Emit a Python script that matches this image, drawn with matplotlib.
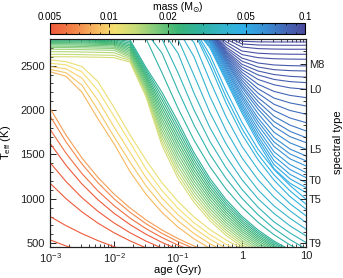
import matplotlib
matplotlib.use("Agg")
import matplotlib.pyplot as plt
from matplotlib.cm import ScalarMappable
from matplotlib.colors import LinearSegmentedColormap, LogNorm
from matplotlib.ticker import FixedLocator, FixedFormatter, MultipleLocator, NullFormatter

plt.rcParams["font.family"] = ["Liberation Sans", "DejaVu Sans"]
plt.rcParams["mathtext.fontset"] = "custom"
plt.rcParams["mathtext.rm"] = "Liberation Sans"
plt.rcParams["mathtext.it"] = "Liberation Sans:italic"
plt.rcParams["mathtext.bf"] = "Liberation Sans:bold"

AGE_GRID = [0.001, 0.00178, 0.00316, 0.00562, 0.01, 0.0178, 0.0316, 0.0562,
            0.1, 0.178, 0.316, 0.562, 1.0, 1.78, 3.16, 5.62, 10.0]

# tracks that start at 1 Myr (Teff in K, first len(track) ages of AGE_GRID)
EARLY_MASSES = [0.003, 0.0035, 0.004, 0.0045, 0.005, 0.0058, 0.0068, 0.0076,
                0.0085, 0.0092, 0.0099, 0.0106, 0.0113,
                0.0125, 0.0135, 0.0145, 0.0155, 0.0165, 0.0175, 0.0185, 0.0195,
                0.0205, 0.0215, 0.0225, 0.024, 0.025, 0.027, 0.028]
EARLY_TRACKS = [
    [537, 468, 416, 371],
    [800, 697, 607, 528, 460, 401],
    [1176, 1001, 852, 725, 617, 525, 447, 380],
    [1408, 1194, 1012, 858, 728, 617, 523, 444, 376],
    [1626, 1377, 1166, 988, 837, 709, 600, 508, 430, 364],
    [1784, 1513, 1283, 1088, 923, 782, 663, 563, 477, 405],
    [1934, 1640, 1391, 1180, 1000, 848, 719, 610, 517, 439],
    [2020, 1717, 1459, 1240, 1054, 896, 762, 648, 551, 468, 398],
    [2432, 2380, 2200, 1900, 1620, 1306, 1051, 846, 681, 548, 441],
    [2459, 2420, 2280, 2000, 1700, 1413, 1145, 927, 751, 608, 493, 399],
    [2489, 2465, 2360, 2110, 1810, 1522, 1239, 1009, 821, 669, 544, 443],
    [2527, 2510, 2430, 2220, 1930, 1635, 1337, 1092, 892, 729, 596, 487, 398],
    [2565, 2545, 2490, 2320, 2030, 1720, 1437, 1180, 969, 795, 653, 536, 440],
    [2601, 2600, 2598, 2595, 2590, 2540, 2150, 1600, 1230, 960, 752, 588, 460, 360],
    [2628, 2627, 2624, 2620, 2616, 2558, 2174, 1643, 1276, 1000, 786, 617, 484, 381],
    [2658, 2657, 2654, 2650, 2646, 2576, 2197, 1686, 1321, 1040, 820, 646, 509, 401],
    [2685, 2684, 2681, 2677, 2673, 2594, 2221, 1729, 1367, 1080, 854, 675, 533, 422, 334],
    [2705, 2704, 2701, 2697, 2693, 2611, 2244, 1771, 1413, 1120, 888, 703, 558, 442, 351],
    [2720, 2719, 2716, 2712, 2708, 2629, 2268, 1814, 1459, 1160, 922, 732, 582, 463, 368],
    [2735, 2734, 2731, 2727, 2723, 2647, 2291, 1857, 1504, 1200, 956, 761, 607, 483, 386],
    [2748, 2747, 2744, 2740, 2736, 2665, 2315, 1900, 1550, 1240, 990, 790, 631, 504, 403, 321],
    [2760, 2759, 2756, 2752, 2748, 2683, 2339, 1943, 1596, 1279, 1024, 819, 655, 525, 420, 336],
    [2770, 2769, 2766, 2762, 2758, 2701, 2362, 1986, 1641, 1319, 1058, 848, 680, 545, 438, 350],
    [2780, 2779, 2777, 2774, 2770, 2719, 2386, 2029, 1687, 1359, 1092, 877, 704, 566, 455, 365],
    [2790, 2789, 2787, 2784, 2780, 2736, 2409, 2071, 1733, 1399, 1126, 905, 729, 586, 472, 379],
    [2800, 2799, 2797, 2795, 2792, 2754, 2433, 2114, 1779, 1439, 1160, 934, 753, 607, 490, 394],
    [2808, 2807, 2806, 2804, 2801, 2772, 2456, 2157, 1824, 1479, 1194, 963, 778, 627, 507, 408],
    [2816, 2815, 2814, 2813, 2812, 2790, 2480, 2200, 1870, 1519, 1228, 992, 802, 648, 524, 423],
]

# heavier tracks, read from 10 Myr on (last len(track) ages of AGE_GRID)
LATE_MASSES = [0.030, 0.032, 0.034, 0.036, 0.038, 0.040, 0.042, 0.044, 0.046, 0.048,
               0.050, 0.052, 0.054, 0.056, 0.058, 0.060, 0.062, 0.064, 0.066,
               0.068, 0.070, 0.072, 0.074, 0.076, 0.078, 0.080, 0.082, 0.084,
               0.086, 0.088, 0.090, 0.092, 0.094, 0.096, 0.097, 0.098, 0.1]
LATE_TRACKS = [
    [2960, 2900, 2806, 2420, 2020, 1660, 1360, 1110, 905, 735, 595, 480, 385],
    [3000, 2950, 2880, 2640, 2220, 1830, 1500, 1230, 1005, 820, 665, 540, 435],
    [3040, 2990, 2930, 2800, 2420, 2000, 1645, 1350, 1105, 905, 740, 615, 507],
    [3080, 3030, 2970, 2900, 2640, 2190, 1800, 1480, 1215, 1000, 835, 695, 582],
    [3110, 3060, 3010, 2950, 2800, 2390, 1970, 1620, 1335, 1100, 920, 780, 658],
    [3140, 3090, 3040, 2990, 2910, 2600, 2150, 1770, 1460, 1215, 1020, 865, 732],
    [3170, 3120, 3070, 3020, 2960, 2760, 2330, 1925, 1590, 1330, 1115, 945, 807],
    [3200, 3150, 3100, 3050, 2990, 2880, 2500, 2080, 1725, 1440, 1210, 1025, 883],
    [3210, 3160, 3110, 3060, 3000, 2900, 2560, 2150, 1790, 1500, 1270, 1090, 939],
    [3220, 3170, 3120, 3070, 3010, 2920, 2620, 2220, 1860, 1560, 1330, 1150, 995],
    [3230, 3180, 3130, 3080, 3020, 2930, 2700, 2330, 1965, 1635, 1340, 1175, 1070],
    [3235, 3185, 3135, 3085, 3025, 2935, 2720, 2355, 1995, 1670, 1385, 1225, 1126],
    [3240, 3190, 3140, 3090, 3030, 2940, 2740, 2380, 2025, 1705, 1430, 1275, 1182],
    [3245, 3195, 3145, 3095, 3035, 2945, 2760, 2405, 2055, 1745, 1480, 1330, 1239],
    [3250, 3200, 3150, 3100, 3040, 2950, 2780, 2430, 2085, 1785, 1530, 1385, 1295],
    [3255, 3205, 3155, 3105, 3045, 2955, 2795, 2455, 2120, 1830, 1590, 1450, 1370],
    [3260, 3210, 3160, 3110, 3050, 2960, 2810, 2475, 2150, 1870, 1640, 1505, 1427],
    [3265, 3215, 3165, 3115, 3055, 2965, 2820, 2495, 2180, 1910, 1690, 1560, 1483],
    [3270, 3220, 3170, 3120, 3060, 2970, 2830, 2515, 2215, 1960, 1750, 1630, 1559],
    [3275, 3225, 3175, 3125, 3065, 2975, 2840, 2535, 2250, 2010, 1815, 1700, 1633],
    [3280, 3230, 3180, 3130, 3070, 2980, 2845, 2550, 2275, 2050, 1870, 1760, 1689],
    [3285, 3235, 3185, 3135, 3075, 2985, 2850, 2565, 2305, 2095, 1930, 1830, 1765],
    [3290, 3240, 3190, 3140, 3080, 2990, 2860, 2580, 2335, 2140, 1995, 1910, 1858],
    [3295, 3245, 3195, 3145, 3085, 2995, 2870, 2595, 2365, 2190, 2065, 1995, 1953],
    [3300, 3250, 3200, 3150, 3090, 3000, 2875, 2610, 2395, 2240, 2135, 2080, 2046],
    [3305, 3255, 3205, 3155, 3095, 3005, 2880, 2625, 2425, 2290, 2210, 2165, 2140],
    [3310, 3260, 3210, 3160, 3100, 3010, 2885, 2640, 2455, 2345, 2285, 2250, 2234],
    [3315, 3265, 3215, 3165, 3105, 3015, 2890, 2655, 2485, 2395, 2345, 2320, 2309],
    [3320, 3270, 3220, 3170, 3110, 3020, 2895, 2670, 2515, 2440, 2400, 2380, 2370],
    [3325, 3275, 3225, 3175, 3115, 3020, 2900, 2690, 2550, 2485, 2455, 2444, 2440],
    [3330, 3280, 3230, 3180, 3120, 3020, 2910, 2710, 2585, 2530, 2508, 2500, 2497],
    [3335, 3285, 3235, 3185, 3125, 3020, 2920, 2740, 2625, 2590, 2578, 2574, 2572],
    [3340, 3290, 3240, 3190, 3130, 3020, 2930, 2770, 2665, 2640, 2632, 2629, 2628],
    [3345, 3295, 3245, 3195, 3135, 3020, 2940, 2800, 2710, 2692, 2687, 2685, 2685],
    [3350, 3300, 3250, 3200, 3140, 3020, 2950, 2830, 2745, 2733, 2731, 2730, 2730],
    [3355, 3305, 3255, 3205, 3145, 3020, 2955, 2850, 2775, 2768, 2767, 2767, 2767],
    [3360, 3310, 3260, 3210, 3150, 3020, 2960, 2830, 2799, 2797, 2797, 2797, 2797],
]

# spectral type scale on the right axis
SPT_MAJOR_TEFF = [2519, 2234, 1558, 1213, 995, 500]
SPT_MAJOR_LABELS = ["M8", "L0", "L5", "T0", "T5", "T9"]
SPT_MINOR_TEFF = [2800, 2662, 2376, 2099, 1964, 1829, 1694, 1490, 1420, 1351,
                  1282, 1169, 1126, 1082, 1039, 871, 748, 624]

MASS_TICKS = [0.005, 0.01, 0.02, 0.05, 0.1]
MASS_TICK_LABELS = ["0.005", "0.01", "0.02", "0.05", "0.1"]
AGE_TICKS = [0.001, 0.01, 0.1, 1, 10]
AGE_TICK_LABELS = [r"10$^{-3}$", r"10$^{-2}$", r"10$^{-1}$", "1", "10"]

cmap = LinearSegmentedColormap.from_list("mass", [
    (0.00, "#ee5a3a"), (0.10, "#f4874a"), (0.18, "#f7b960"), (0.25, "#f5e070"),
    (0.33, "#c8dc78"), (0.42, "#7ac97a"), (0.50, "#3bb475"), (0.58, "#2fb29a"),
    (0.68, "#35b5cc"), (0.76, "#30b0e8"), (0.86, "#3a88d0"), (0.93, "#4565b5"),
    (1.00, "#4b4b9e")])
norm = LogNorm(vmin=0.005, vmax=0.1, clip=True)

fig = plt.figure(figsize=(3.43, 2.78), dpi=100)
ax = fig.add_axes([0.1458, 0.1133, 0.7463, 0.7482])

for mass, teff in zip(EARLY_MASSES, EARLY_TRACKS):
    ax.plot(AGE_GRID[:len(teff)], teff, color=cmap(norm(mass)), lw=0.8)
for mass, teff in zip(LATE_MASSES, LATE_TRACKS):
    ax.plot(AGE_GRID[-len(teff):], teff, color=cmap(norm(mass)), lw=0.8)

ax.set_xscale("log")
ax.set_xlim(1e-3, 10)
ax.set_ylim(462, 2806)
ax.xaxis.set_major_locator(FixedLocator(AGE_TICKS))
ax.xaxis.set_major_formatter(FixedFormatter(AGE_TICK_LABELS))
ax.xaxis.set_minor_formatter(NullFormatter())
ax.yaxis.set_major_locator(MultipleLocator(500))
ax.yaxis.set_minor_locator(MultipleLocator(100))
ax.tick_params(which="both", direction="in", top=True, right=False, labelsize=8, colors="#222222")
ax.tick_params(which="major", length=4, width=0.7)
ax.tick_params(which="minor", length=2, width=0.6)
ax.set_xlabel("age (Gyr)", fontsize=8)
ax.set_ylabel(r"T$_{\rm eff}$ (K)", fontsize=8)
ax.xaxis.set_label_coords(0.5, -0.09)
ax.yaxis.set_label_coords(-0.145, 0.5)

ax2 = ax.twinx()
ax2.set_ylim(ax.get_ylim())
ax2.yaxis.set_major_locator(FixedLocator(SPT_MAJOR_TEFF))
ax2.yaxis.set_major_formatter(FixedFormatter(SPT_MAJOR_LABELS))
ax2.yaxis.set_minor_locator(FixedLocator(SPT_MINOR_TEFF))
ax2.tick_params(which="both", direction="in", labelsize=8, colors="#222222")
ax2.tick_params(which="major", length=4, width=0.7, pad=2)
ax2.tick_params(which="minor", length=2, width=0.6)
ax2.set_ylabel("spectral type", fontsize=8)
ax2.yaxis.set_label_coords(1.105, 0.5)

for a in (ax, ax2):
    for s in a.spines.values():
        s.set_linewidth(0.8)
        s.set_color("#222222")

cax = fig.add_axes([0.1458, 0.878, 0.7434, 0.040])
cb = fig.colorbar(ScalarMappable(norm=norm, cmap=cmap), cax=cax, orientation="horizontal")
cb.outline.set_linewidth(0.8)
cax.xaxis.set_ticks_position("top")
cb.set_ticks(MASS_TICKS)
cb.set_ticklabels(MASS_TICK_LABELS)
cax.tick_params(which="both", direction="in", top=True, bottom=True, labelsize=7, pad=0.5)
cax.tick_params(which="major", length=3, width=0.6)
cax.tick_params(which="minor", length=1.5, width=0.5)

# colorbar title "mass (M_sun)" laid out as plain text pieces, sun symbol lowered
renderer = fig.canvas.get_renderer()
pieces = [("mass (M", 7.5, 0.0), ("\u2299", 5.5, -2.0), (")", 7.5, 0.0)]
texts = [fig.text(0, 0, s, fontsize=fs, va="baseline", ha="left") for s, fs, _ in pieces]
widths = [t.get_window_extent(renderer).width for t in texts]
x_px = 0.5175 * fig.bbox.width - sum(widths) / 2
base_px = fig.bbox.height - 9.5
for t, w, (_, _, dy) in zip(texts, widths, pieces):
    t.set_position((x_px / fig.bbox.width, (base_px + dy) / fig.bbox.height))
    x_px += w

fig.savefig("out.png", dpi=100)
